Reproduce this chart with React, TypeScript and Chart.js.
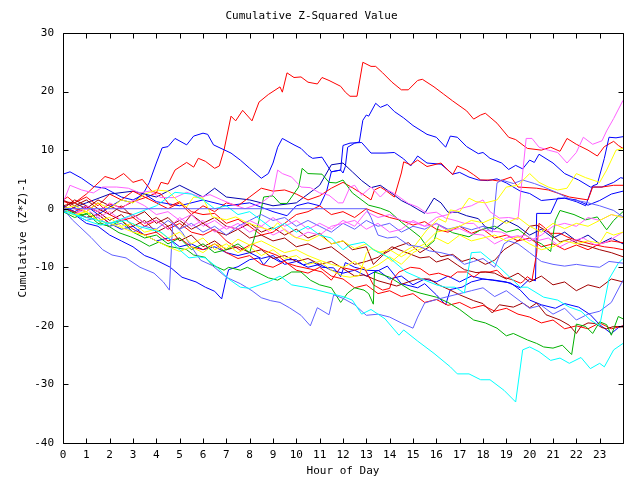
import React, { useEffect, useRef } from "react";
import { Chart, registerables } from "chart.js";

Chart.register(...registerables);

// ---- axis / tick data ----
const X_TICKS = [0, 1, 2, 3, 4, 5, 6, 7, 8, 9, 10, 11, 12, 13, 14, 15, 16, 17, 18, 19, 20, 21, 22, 23, 24];
const Y_TICKS = [-40, -30, -20, -10, 0, 10, 20, 30];
const TITLE = "Cumulative Z-Squared Value";
const X_TITLE = "Hour of Day";
const Y_TITLE = "Cumulative (Z*Z)-1";

// ---- series: [hour, cumulative value] ----
const redTop = [[0,0],[0.5,-0.8],[1,0.3],[1.5,-0.5],[2,0.8],[2.5,0.2],[3,1.2],[3.6,2],[4,2.7],[4.2,4.5],[4.5,4.2],[4.8,6.6],[5.3,7.9],[5.6,7.1],[5.8,8.6],[6.1,8.1],[6.5,6.9],[6.7,7.3],[6.9,10],[7.2,15.8],[7.4,15],[7.7,16.8],[8.1,15],[8.4,18.2],[8.8,19.5],[9.3,20.8],[9.4,19.9],[9.6,23.2],[9.9,22.4],[10.2,22.5],[10.5,21.6],[10.9,21.3],[11.1,22.4],[11.4,21.9],[11.9,20.9],[12.1,19.9],[12.3,19.2],[12.6,19.2],[12.85,25],[13.2,24.3],[13.4,24.3],[13.7,23.2],[14.1,21.6],[14.5,20.3],[14.8,20.3],[15.2,21.9],[15.4,22.1],[15.9,20.8],[16.3,19.6],[16.7,18.4],[17.3,16.7],[17.6,15.3],[17.9,16],[18.1,16.3],[18.6,14.6],[19.1,12.2],[19.4,11.8],[19.9,10.3],[20.5,10],[20.9,10.5],[21.3,9.8],[21.6,12],[22,11],[22.5,10],[22.9,9],[23.2,10.6],[23.6,11.5],[23.8,10.8],[24,10.3]];
const red2 = [[0,1.2],[0.5,1],[1,2],[1.5,0.5],[2,2.5],[2.5,1.5],[3,3],[3.5,2],[4,1],[4.5,0],[5,1],[5.5,-1],[6,0.5],[6.5,-0.5],[7,1],[7.5,0.5],[8,2],[8.5,3.5],[9,3],[9.5,3.2],[10,2.5],[10.5,1.5],[11,2.2],[11.5,3.5],[12,4.5],[12.4,3.6],[12.8,2.6],[13.2,1.5],[13.35,3.2],[13.6,3.7],[13.8,3.2],[14.2,2],[14.5,6.1],[14.6,8],[14.9,7.5],[15.2,8.3],[15.6,7.2],[15.9,7.5],[16.2,7.8],[16.5,6.6],[16.7,5.8],[16.9,7.3],[17.3,6.6],[17.6,5.8],[17.9,4.9],[18.4,4.9],[18.7,4.7],[19.2,5.4],[19.5,3.7],[20.3,3.5],[20.8,3.2],[21.7,2],[22.5,1.5],[22.7,3.7],[23.1,3.7],[23.6,4],[24,4]];
const red3 = [[0,1.5],[0.5,0],[1,-0.5],[1.5,1],[2,-1],[2.5,-2],[3,-1.5],[3.5,-3],[4,-2],[4.5,-3.5],[5,-2.5],[5.5,-4],[6,-4.5],[6.5,-3.5],[7,-5.5],[7.6,-7.1],[8.1,-6],[8.6,-7.1],[9.2,-8],[9.6,-9.3],[10,-9.8],[10.6,-10.3],[11.1,-10.8],[11.5,-12.2],[11.9,-10],[12.5,-10.5],[12.9,-10],[13.3,-13],[13.7,-13.9],[14,-13.6],[14.1,-12.2],[14.4,-10.8],[14.9,-10],[15.3,-10.2],[15.7,-11.3],[16.1,-11],[16.6,-11.7],[16.9,-10.8],[17.3,-10.8],[17.6,-11.7],[17.9,-10.8],[18.3,-10.8],[18.6,-10.5],[18.9,-11.7],[19.3,-12.2],[19.6,-12.7],[19.7,-12.5],[19.9,-11.6],[20.1,-12.2],[20.3,-7.6],[20.4,-2.5],[20.6,-3.1],[20.9,-4.2],[21.3,-4.2],[21.6,-4.8],[22,-5.4],[22.6,-6],[23.2,-6.5],[23.6,-6.7],[24,-7]];
const red4 = [[0,0],[0.5,-0.5],[1,-1.5],[1.5,-1],[2,-2.5],[2.5,-2],[3,-3.5],[3.5,-4.5],[4,-4],[4.5,-5.5],[5,-5],[5.5,-6.5],[6,-7],[6.5,-6],[7,-7.5],[7.5,-8.5],[8,-8],[8.5,-9.5],[9,-10],[9.5,-9],[10,-10.5],[10.5,-11],[11,-10],[11.5,-11.5],[12,-12],[12.5,-13.5],[13,-13],[13.5,-14.5],[14,-14],[14.5,-15],[15,-14.5],[15.5,-16],[16,-15.5],[16.5,-16.5],[17,-16],[17.5,-17],[18,-16.5],[18.5,-17.5],[19,-17],[19.5,-18],[20,-18.5],[20.5,-19.5],[21,-19],[21.5,-20.5],[22,-20],[22.5,-20.5],[23,-19.5],[23.5,-20.5],[24,-20]];
const red5 = [[0,1.5],[0.2,2],[0.5,1],[1,2.5],[1.4,4],[1.8,5.5],[2.2,5],[2.6,6],[3,4.5],[3.4,5],[3.8,3],[4.2,2.5],[4.6,0.5],[5,1.2],[5.5,-0.5],[6,-1],[6.5,-0.8],[7,-2.5],[7.5,-1.8],[8,-3],[8.5,-4.5],[9,-4],[9.5,-2.5],[10,-1],[10.5,-0.5],[11,0.5],[11.5,-1],[12,-0.5],[12.5,-1.5],[13,0],[13.5,-0.8],[14,-1.5],[14.5,-2],[15,-2.8],[15.5,-2.2],[16,-3.5],[16.5,-4],[17,-3],[17.5,-4.2],[18,-3.5],[18.5,-5],[19,-4.5],[19.5,-5.5],[20,-5],[20.5,-6.5],[21,-6],[21.5,-7],[22,-6.2],[22.5,-7],[23,-6],[23.5,-5.5],[24,-5.8]];
const blue1 = [[0,0],[0.5,-0.5],[1,0.5],[1.5,-1],[2,0.3],[2.5,1.5],[3,1],[3.5,3],[3.7,4.5],[4,7.8],[4.25,10.4],[4.5,10.6],[4.8,12],[5.3,10.9],[5.6,12.4],[6,12.9],[6.2,12.7],[6.45,10.9],[7.2,9.5],[7.6,8.3],[8,6.9],[8.5,5.2],[8.8,6],[9,7.8],[9.2,10.5],[9.4,12],[9.9,10.9],[10.2,10.3],[10.5,9.1],[10.7,8.6],[11.1,8.8],[11.5,6.3],[11.9,6.6],[12,10.8],[12.3,11.2],[12.8,11.3],[13.2,9.5],[13.8,9.5],[14.2,9.6],[14.6,8.5],[14.9,7.3],[15.2,9],[15.6,7.8],[16.2,7.6],[16.7,5.9],[17,6.2],[17.4,5.4],[17.8,4.9],[18.2,4.8],[18.6,5.1],[19,4.4],[19.6,3],[20,2.6],[20.5,1.4],[21,1.6],[21.5,1.8],[22,1.5],[22.5,0.6],[23,1.4],[23.5,2.5],[24,3]];
const blue2 = [[0,5.9],[0.3,6.3],[0.8,5.2],[1.3,3.8],[1.8,3.5],[2.5,2],[3,1.5],[3.5,2.5],[4,1.2],[5,0.5],[6,1.5],[7,0.5],[8,1],[9,-0.5],[9.6,-1.2],[10,0.5],[10.5,1],[11,0.5],[11.3,3],[11.5,6.3],[11.9,6.6],[12,6.1],[12.1,7.2],[12.2,10.5],[12.5,11.2],[12.7,11.4],[12.85,15.1],[13,16],[13.1,15.8],[13.4,18],[13.6,17.3],[13.9,17.8],[14.2,16.6],[14.6,15.5],[15,14.2],[15.6,12.7],[16,12.2],[16.4,10.5],[16.6,12.4],[16.9,12.2],[17.3,10.6],[17.8,9.4],[18,9.6],[18.3,8.6],[18.8,7.8],[19.1,6.7],[19.4,7.4],[19.7,6.8],[20,8.3],[20.2,7.9],[20.4,9.3],[21,7.8],[21.5,6],[22.1,4.9],[22.6,3.7],[23.1,3.7],[23.6,4.5],[23.9,5.3],[24,5.2]];
const blue3 = [[0,0],[0.5,-1],[1,-2.5],[1.5,-3],[2,-4.5],[2.5,-5.5],[3,-6.5],[3.5,-8],[3.9,-8.6],[4.6,-10],[5.1,-11.7],[5.7,-12.5],[6.1,-13.4],[6.5,-14.1],[6.8,-15.4],[7,-11.8],[7.1,-10.4],[7.5,-9.9],[8,-8.7],[8.4,-8.4],[8.6,-9.6],[8.9,-8.2],[9.3,-9.1],[9.6,-8.7],[10,-8.7],[10.3,-9.6],[10.7,-9.1],[11.1,-10],[11.6,-10.1],[11.9,-11.6],[12.1,-9.2],[12.5,-10],[13,-10.5],[13.5,-10.6],[13.9,-9.8],[14.5,-12.8],[15.2,-13.5],[15.5,-12.8],[16,-14.7],[16.4,-16.4],[16.6,-13.8],[17.1,-13.4],[17.5,-12.5],[18,-12],[18.5,-12.2],[19,-12.5],[19.6,-13.5],[20,-12],[20.25,-12.3],[20.3,-0.8],[20.9,-0.8],[21.2,1.8],[21.5,1.8],[22,1.2],[22.4,0.5],[22.7,3.9],[22.9,4.2],[23.2,8.6],[23.4,12.2],[23.7,12.1],[24,12.3]];
const blue4 = [[0,0.5],[0.5,-0.5],[1,-1.5],[1.5,-1],[2,-2.5],[2.5,-3.5],[3,-3],[3.5,-4.5],[4,-5.5],[4.5,-5],[5,-6.5],[5.5,-6],[6,-7],[6.5,-6.5],[7,-7.5],[7.5,-8],[8,-7.5],[8.5,-8.5],[9,-8],[9.5,-9.5],[10,-9],[10.5,-10],[11,-9.5],[11.5,-10.5],[12,-11],[12.5,-10.5],[13,-11.5],[13.5,-10.5],[14,-12],[14.5,-11.5],[15,-13],[15.5,-12],[16,-12.5],[16.5,-11.5],[17,-12.5],[17.5,-11.5],[18,-12],[18.4,-12.2],[19.2,-12.7],[19.6,-13.9],[20,-15.6],[20.5,-16.4],[21.1,-17],[21.5,-16.2],[22.1,-16.8],[22.6,-18.1],[23,-19.8],[23.5,-21.3],[23.8,-20.3],[24,-20]];
const navy1 = [[0,-0.5],[1,1],[2,2.5],[3,3],[4,2],[5,4],[6,2],[6.5,3.5],[7,2],[8,1.5],[9,0.5],[10,1],[10.5,2.5],[11,4],[11.5,7.5],[12,7.8],[12.4,6.3],[12.8,4.8],[13.2,3.6],[13.6,4],[14.1,2.6],[14.5,1.4],[14.9,0.6],[15.5,-0.8],[15.9,1.8],[16.2,1],[16.5,-0.6],[16.9,-0.6],[17.3,-1.2],[17.8,-1.7],[18.1,-3.1],[18.5,-3.5],[19,-2],[19.5,-3],[20,-4.5],[20.5,-3.5],[21,-5],[21.5,-4],[22,-5.5],[22.5,-4.5],[23,-6],[23.5,-5],[24,-6]];
const pink1 = [[0,0],[0.5,-1],[1,0.5],[1.5,-0.5],[2,1],[2.5,0],[3,1.5],[3.5,0.5],[4,-1],[4.5,-0.5],[5,-2],[5.5,-1],[6,-3],[6.5,-2],[7,-3.5],[7.5,-2.5],[8,-4],[8.5,-3],[9,-4.5],[9.5,-3.5],[10,-5],[10.5,-4],[11,-4.5],[11.5,-3],[12,-2.5],[12.5,-2],[13,-3.5],[13.5,-2.5],[14,-4],[14.5,-3.5],[15,-2],[15.5,-3],[16,-1.5],[16.5,-1],[17,0],[17.5,0.5],[18,1.5],[18.3,-0.5],[18.7,-1.6],[19.1,-1.5],[19.5,-1.8],[19.85,12],[20.1,12],[20.4,10.5],[20.8,10],[21.2,9.6],[21.6,7.8],[22,9.6],[22.3,12.2],[22.7,11],[23.1,11.6],[23.3,13.3],[23.6,15.4],[24,18.5]];
const pink2 = [[0,1],[0.3,4],[0.8,3.2],[1.3,2.7],[1.7,3.7],[2.3,3.7],[2.8,3.5],[3.3,2.7],[3.7,3],[4.2,1.9],[4.8,1.9],[5.3,2.8],[5.9,2],[6.3,2.4],[6.8,1.5],[7.3,0.7],[7.8,0],[8.5,1],[9,2.5],[9.2,6.6],[9.4,6],[9.8,5.4],[10.2,3.7],[10.6,3.6],[11,2.7],[11.4,2.3],[11.8,1],[12,1],[12.3,3.7],[12.5,4],[12.8,2.3],[13.2,3.7],[13.6,2],[13.9,3.2],[14.2,2.6],[14.8,0.9],[15.2,0.3],[15.6,-0.8],[16,-0.6],[16.4,-1.6],[16.8,-2],[17.2,-2.5],[17.6,-2.5],[17.9,-3.6],[18.3,-3.8],[18.8,-4],[19.3,-5],[19.8,-4.5],[20.3,-5.5],[20.8,-5],[21.3,-6.5],[21.8,-5.5],[22.3,-5],[22.8,-6.2],[23.3,-5.7],[24,-4]];
const pink3 = [[0,0],[0.5,-1],[1,0],[1.5,-1.5],[2,-0.5],[2.5,-2],[3,-1],[3.5,-2.5],[4,-2],[4.5,-3.5],[5,-1.5],[5.5,-3],[6,-2],[6.5,-4],[7,-3],[7.5,-3.5],[8,-2],[8.5,-3],[9,-1.5],[9.5,-3],[10,-2],[10.5,-3.5],[11,-2.5],[11.5,-3.5],[12,-2],[12.5,-3],[13,-0.5],[13.5,-1.5],[14,-1],[14.5,-2],[15,-2.3],[15.5,-3],[16,-2.6],[16.5,-3.7],[17,-3.4],[17.5,-4.3],[18,-4.5],[18.5,-6],[19,-5],[19.5,-4.6],[20,-5.5],[20.5,-4.5],[21,-3],[21.5,-2.5],[22,-3],[22.5,-1.5],[23,-2],[23.5,-1],[24,-1.5]];
const cyan1 = [[0,0],[0.4,-0.8],[1,-2],[1.6,-2.8],[2.7,-2],[3.1,-2.8],[3.5,-3.3],[4.2,-4],[4.6,-5.3],[4.9,-6.7],[5.4,-8.4],[5.8,-8.2],[6.1,-8.4],[6.6,-10],[7.1,-12],[7.6,-13.4],[8,-13.6],[8.8,-12.5],[9.3,-11.5],[9.8,-13],[10.5,-13.5],[12,-15],[12.4,-15.6],[12.8,-18],[13.2,-17.2],[13.8,-18.8],[14.4,-21.6],[14.6,-20.7],[15.2,-22.6],[15.9,-24.7],[16.6,-27],[16.9,-28.2],[17.4,-28.2],[17.9,-29.2],[18.3,-29.2],[18.9,-31],[19.4,-33],[19.7,-24.1],[20,-23.6],[20.4,-24.4],[20.9,-25.9],[21.3,-25.5],[21.7,-26.4],[22.2,-25.4],[22.6,-27.3],[23,-26.4],[23.2,-27],[23.6,-24.1],[24,-23]];
const cyan2 = [[0,-0.5],[1,-1.5],[2,-2.5],[3,-1],[4,0.5],[4.8,2.8],[5.5,2.5],[6,1.5],[6.5,0],[7,0.5],[7.5,-1],[8,-0.5],[8.5,-2],[9,-3.5],[9.5,-2.5],[10,-4],[10.5,-3],[11,-4.5],[11.5,-5],[12,-7],[12.3,-6.2],[12.9,-5.7],[13.3,-7],[14,-8.4],[14.7,-10.8],[15.5,-12.2],[16,-13],[16.4,-13.4],[16.8,-13.4],[17.2,-14.4],[17.5,-7.5],[17.9,-7.4],[18.7,-10],[19.6,-13.4],[19.9,-13.4],[20.6,-15.1],[21.2,-15.6],[21.7,-16.8],[22.2,-17.5],[22.6,-19],[23,-20],[23.4,-12],[23.8,-9.3],[24,-8.5]];
const green1 = [[0,-0.5],[0.5,-1.5],[1,-0.8],[1.5,-2.5],[2,-3],[2.5,-2],[3,-4],[3.5,-5],[4,-4.5],[4.5,-6],[5,-5],[5.5,-7],[6,-6],[6.5,-7.5],[7,-7],[7.5,-6],[8,-7.5],[8.2,-5],[8.4,-2],[8.6,2],[9,2.2],[9.3,0.9],[9.6,0.9],[10.1,3.7],[10.25,6.9],[10.5,6],[11.1,5.9],[11.4,4.5],[11.7,4.4],[12,4.9],[12.4,2.7],[13.1,0.6],[13.6,0.1],[14,-0.5],[14.5,-2.3],[15.3,-4.8],[15.6,-6.5],[15.9,-5.5],[16.1,-2.8],[16.7,-4.1],[17.4,-4.8],[17.9,-3.6],[18.5,-3],[19,-4],[19.5,-3.5],[20,-5],[20.5,-6],[20.9,-7.3],[21.1,-2],[21.3,-0.3],[21.9,-1],[22.4,-1.9],[22.9,-1.4],[23.3,-3.6],[23.6,-2],[24,-0.5]];
const green2 = [[0,-0.3],[0.4,-0.6],[0.85,-1.1],[1.2,-0.7],[1.6,-2.4],[2,-3.1],[2.4,-4.1],[2.9,-4.8],[3.3,-5.5],[3.7,-6.4],[4.1,-5.7],[4.5,-6.4],[5.3,-7],[5.6,-7.9],[6.1,-8.3],[6.4,-9.6],[6.9,-10.5],[7.1,-10],[7.6,-10.5],[7.9,-10],[8.4,-11],[8.8,-11.8],[9.2,-12.2],[9.8,-10.8],[10.2,-10.8],[10.6,-12.2],[11,-13],[11.5,-13.5],[11.9,-16],[12.2,-14.4],[12.5,-13.5],[12.9,-13.9],[13.1,-14.5],[13.3,-16.3],[13.35,-10.8],[14,-11.7],[14.9,-13.9],[15.3,-14.4],[16,-15.1],[16.5,-16],[17,-17.2],[17.6,-19],[18.1,-19.5],[18.6,-20.4],[19,-21.7],[19.3,-21.3],[19.9,-22.4],[20.3,-23],[20.6,-23.6],[21,-23.8],[21.4,-23.3],[21.8,-24.9],[22,-19.7],[22.4,-20.1],[22.7,-21.3],[23,-19.3],[23.3,-19.8],[23.5,-21.6],[23.8,-18.4],[24,-18.8]];
const yellow1 = [[0,0],[0.5,-1],[1,-0.5],[1.5,-2],[2,-1.5],[2.5,-3],[3,-2.5],[3.5,-4],[4,-3.5],[4.5,-5],[5,-4],[5.5,-6],[6,-5],[6.5,-7],[7,-6],[7.5,-7.5],[8,-6.5],[8.5,-8],[9,-7],[9.5,-8.5],[10,-8],[10.5,-9.5],[11,-9],[11.5,-10.5],[12,-11.5],[12.3,-11.7],[12.7,-11.4],[13,-7.6],[13.2,-6.8],[13.7,-7.6],[14.1,-9],[14.5,-7.6],[15.1,-6.2],[15.6,-3.6],[16.1,-1.7],[16.4,-2.3],[16.6,-0.2],[17,-0.5],[17.4,1.8],[17.7,1.2],[18.1,1],[18.6,1.5],[19,3.7],[19.5,4],[20,6],[20.4,4.5],[20.8,3.7],[21.2,3.2],[21.6,3.5],[22,6],[22.4,5.3],[23,4.5],[23.3,6.6],[23.7,10],[24,10.3]];
const yellow2 = [[0,0],[0.5,-1.2],[1,-0.5],[1.5,-2],[2,-2.5],[2.5,-3.2],[3,-4],[3.5,-4.5],[4,-5.5],[4.5,-6.5],[5,-7.3],[5.5,-6.5],[6,-7.5],[6.5,-6],[7,-6.8],[7.5,-5.2],[8,-6.2],[8.5,-5.5],[9,-6.5],[9.5,-7.5],[10,-7],[10.5,-8],[11,-8.8],[11.5,-9.5],[12,-10],[12.5,-9],[13,-10.5],[13.5,-9.6],[14,-8.2],[14.5,-9.5],[15,-7.5],[15.5,-6.5],[16,-5],[16.5,-6],[17,-4.5],[17.5,-5.5],[18,-5],[18.5,-4.5],[19,-5.5],[19.5,-4.8],[20,-6],[20.5,-7],[21,-6.5],[21.5,-5.5],[22,-6],[22.5,-5.5],[23,-5.9],[23.3,-4],[23.6,-4.5],[24,-4]];
const yellow3 = [[0,0],[0.5,0.5],[1,-0.5],[1.5,1],[2,0],[2.5,1.5],[3,1],[3.5,2.5],[4,3.2],[4.5,3],[5,1],[5.3,0.3],[5.6,2],[6,1.8],[6.4,-1.4],[7,-1.9],[7.4,-1.4],[7.9,-2.4],[8.4,-3.1],[8.9,-3.7],[9.2,-2.4],[9.5,-3.7],[9.9,-4.8],[10.5,-5.5],[11,-4.5],[11.5,-6],[12,-5.5],[12.5,-6.8],[13,-6],[13.5,-7.5],[14,-7],[14.5,-8.2],[15,-7],[15.5,-6],[16,-4],[16.5,-3.6],[17,-3],[17.5,-2],[18,-2.4],[18.5,-1.5],[19,-2.5],[19.5,-1.5],[20,-3],[20.5,-4],[21,-2.5],[21.5,-3.4],[22,-2.5],[22.5,-3],[23,-2],[23.5,-1],[24,-1.5]];
const darkred1 = [[0,0],[0.5,1.5],[1,0.5],[1.5,-0.5],[2,-2],[2.5,-1],[3,-3],[3.5,-2],[4,-4],[4.5,-3],[5,-5.5],[5.5,-4.5],[6,-6.5],[6.5,-5.5],[7,-7],[7.5,-6.5],[8,-7.5],[8.5,-7],[9,-8.5],[9.5,-8],[10,-9],[10.5,-8.5],[11,-9.5],[11.5,-9],[12,-10.2],[12.5,-11.5],[12.9,-11.3],[13.5,-12.3],[14.3,-13.2],[14.8,-12.5],[15.2,-12],[15.7,-12],[16.1,-13],[16.6,-13.9],[17,-14.7],[17.6,-15.7],[18,-16.2],[18.4,-17.8],[18.7,-16.4],[19.3,-16.8],[19.7,-16.1],[20,-16.9],[20.3,-16.1],[20.7,-18.1],[21.3,-19],[21.7,-19.9],[22,-21.3],[22.2,-20.1],[22.5,-19.5],[22.8,-19.6],[23.1,-20.3],[23.3,-20.5],[23.6,-20.1],[24,-20.2]];
const darkred2 = [[0,1.5],[0.5,0.5],[1,1.5],[1.5,0],[2,-1],[2.5,0.5],[3,-1.5],[3.5,-0.5],[4,-2.5],[4.5,-1.5],[5,-3.5],[5.5,-1],[6,-2.5],[6.5,-1.5],[7,-3],[7.5,-3.5],[8,-2.5],[8.5,-4],[9,-3.2],[9.5,-4.5],[10,-3.5],[10.5,-5],[11,-4.2],[11.5,-6],[12,-5.5],[12.4,-7],[13,-6.5],[13.3,-9.5],[13.8,-7.6],[14.3,-6.5],[14.8,-5.8],[15.3,-7.5],[15.7,-6.5],[16.2,-8.2],[16.7,-7.8],[17.1,-9],[17.6,-8.4],[18.1,-9.5],[18.5,-8.8],[18.9,-7],[19.3,-6],[19.6,-5.2],[20,-3],[20.3,-2.8],[20.8,-4],[21.3,-5.7],[21.7,-5.2],[22.1,-6],[22.6,-6.5],[23,-7],[23.5,-7.5],[24,-8.2]];
const darkred3 = [[0,0.5],[0.5,1],[1,0],[1.5,1.5],[2,0.5],[2.5,-0.5],[3,-1],[3.5,-2.5],[4,-1.5],[4.5,-3],[5,-2],[5.5,-3.5],[6,-2.5],[6.5,-3.8],[7,-4.5],[7.5,-3.5],[8,-5],[8.5,-4.5],[9,-5.5],[9.5,-5],[10,-6.5],[10.5,-6],[11,-7],[11.5,-6.5],[12,-8],[12.5,-9.5],[13,-9],[13.5,-8.3],[14.1,-6.5],[14.6,-7.3],[15.3,-8.4],[15.7,-8.2],[16,-9.1],[16.5,-8.5],[16.9,-9.6],[17.2,-10.4],[17.7,-10.9],[18.1,-10.8],[18.5,-11],[19,-12],[19.5,-11],[20,-12.5],[20.5,-11.5],[21,-13],[21.5,-12.5],[22,-14],[22.5,-13],[23,-13.5],[23.5,-12],[24,-12.5]];
const lightblue1 = [[0,0],[0.4,-1.9],[1.2,-4.9],[1.7,-7],[2.1,-7.9],[2.7,-8.4],[3.3,-10],[3.9,-11],[4.3,-12.5],[4.56,-13.9],[4.7,-2.5],[5.1,-4],[5.5,-6.5],[5.9,-8.8],[6.4,-9.7],[7,-11.7],[7.6,-12.8],[8.1,-14],[8.5,-15.2],[8.9,-15.7],[9.3,-16],[9.7,-16.9],[10.2,-18.2],[10.6,-20],[10.9,-16.9],[11.4,-18.1],[11.6,-14.7],[12,-15.3],[12.5,-16.4],[13,-18.2],[13.5,-18],[14,-18.5],[14.5,-19.5],[15,-20.4],[15.2,-18.5],[15.5,-16.1],[16,-15.5],[16.5,-15],[17,-14.5],[17.5,-14],[18,-13.5],[18.5,-15],[19,-14],[19.5,-15.5],[20,-17],[20.5,-16.5],[21,-18],[21.5,-17],[22,-19],[22.5,-18],[23,-17.5],[23.5,-16],[24,-12.2]];
const lightblue2 = [[0,0],[13,0],[13.2,-1.5],[13.5,-4.5],[13.9,-5],[14.3,-4.8],[14.8,-6.2],[15.3,-6.5],[15.7,-7.2],[16.2,-7.5],[16.7,-8],[17.2,-9.5],[17.6,-9],[18,-8.5],[18.5,-10],[18.9,-6],[19.1,-5.5],[19.5,-6],[20,-7.5],[20.5,-9],[21,-9.5],[21.5,-9.8],[22,-9.5],[22.5,-9.8],[23,-10],[23.4,-9],[24,-9.3]];
const lightblue3 = [[0,0],[0.5,-1],[1,-2],[1.5,-1.5],[2,-3],[2.5,-2.5],[3,-4],[3.5,-3],[4,-3.5],[4.5,-2],[5,-3.5],[5.5,-2.5],[6,-4],[6.5,-3],[7,-4.5],[7.5,-3],[8,-2],[8.5,-1],[9,-2],[9.5,-1.5],[10,-3],[10.5,-2],[11,-3],[11.5,-4],[12,-2.5],[12.5,-3.5],[13,-2],[13.5,-3],[14,-2.5],[14.5,-4],[15,-3],[15.5,-3.5],[16,-2.5],[16.5,-3.5],[17,-3],[17.5,-3.6],[18,-3],[18.4,-4],[18.6,4.4],[18.8,4.9],[19.3,4.3],[19.7,4.9],[20.2,4.3],[20.6,3.7],[21.2,2.7],[21.8,1.5],[22.3,1.2],[23,0.5],[23.6,-0.3],[24,-1.4]];

const SERIES = [
  { data: lightblue2, color: "#6060ff" },
  { data: cyan1, color: "#00ffff" },
  { data: cyan2, color: "#00ffff" },
  { data: yellow1, color: "#ffff00" },
  { data: yellow2, color: "#ffff00" },
  { data: yellow3, color: "#ffff00" },
  { data: pink3, color: "#ff60ff" },
  { data: pink2, color: "#ff60ff" },
  { data: pink1, color: "#ff60ff" },
  { data: lightblue1, color: "#6060ff" },
  { data: lightblue3, color: "#6060ff" },
  { data: green1, color: "#00b000" },
  { data: green2, color: "#00b000" },
  { data: darkred1, color: "#a00000" },
  { data: darkred2, color: "#a00000" },
  { data: darkred3, color: "#a00000" },
  { data: red5, color: "#ff0000" },
  { data: red4, color: "#ff0000" },
  { data: red3, color: "#ff0000" },
  { data: red2, color: "#ff0000" },
  { data: navy1, color: "#0000b0" },
  { data: blue4, color: "#0000ff" },
  { data: blue3, color: "#0000ff" },
  { data: blue1, color: "#0000ff" },
  { data: blue2, color: "#0000ff" },
  { data: redTop, color: "#ff0000" },
];

const FONT = '"DejaVu Sans Mono", "Liberation Mono", monospace';
const FONT_SIZE = 11;

const framePlugin = {
  id: "frame",
  afterDatasetsDraw(chart: any) {
    const { ctx, chartArea, scales } = chart;
    const l = Math.round(chartArea.left) + 0.5;
    const r = Math.round(chartArea.right) + 0.5;
    const t = Math.round(chartArea.top) + 0.5;
    const b = Math.round(chartArea.bottom) + 0.5;
    ctx.save();
    ctx.strokeStyle = "#000";
    ctx.lineWidth = 1;
    ctx.beginPath();
    ctx.rect(l, t, r - l, b - t);
    const len = 5;
    for (const v of X_TICKS) {
      const px = Math.round(scales.x.getPixelForValue(v)) + 0.5;
      ctx.moveTo(px, b);
      ctx.lineTo(px, b - len);
      ctx.moveTo(px, t);
      ctx.lineTo(px, t + len);
    }
    for (const v of Y_TICKS) {
      const py = Math.round(scales.y.getPixelForValue(v)) + 0.5;
      ctx.moveTo(l, py);
      ctx.lineTo(l + len, py);
      ctx.moveTo(r, py);
      ctx.lineTo(r - len, py);
    }
    ctx.stroke();
    ctx.restore();
  },
};

export default function App() {
  const ref = useRef<HTMLCanvasElement>(null);
  useEffect(() => {
    if (!ref.current) return;
    const chart = new Chart(ref.current, {
      type: "line",
      data: {
        datasets: SERIES.map((s, i) => ({
          label: "s" + i,
          data: s.data.map(([x, y]) => ({ x, y })),
          borderColor: s.color,
          backgroundColor: s.color,
          borderWidth: 1,
          pointRadius: 0,
          tension: 0,
          fill: false,
        })),
      },
      options: {
        responsive: false,
        animation: false,
        devicePixelRatio: 1,
        layout: { padding: { left: 0, right: 17, top: 0, bottom: 0 } },
        plugins: {
          legend: { display: false },
          tooltip: { enabled: false },
          title: {
            display: true,
            text: TITLE,
            color: "#000",
            font: { family: FONT, size: FONT_SIZE, weight: "normal", lineHeight: 1.2 },
            padding: { top: 10, bottom: 33 - 10 - FONT_SIZE * 1.2 },
          },
        },
        scales: {
          x: {
            type: "linear",
            min: 0,
            max: 24,
            grid: { display: false, drawTicks: false, tickLength: 0 },
            border: { display: false },
            afterFit: (s: any) => { s.height = 37; },
            afterBuildTicks: (s: any) => { s.ticks = X_TICKS.map((v) => ({ value: v })); },
            ticks: {
              color: "#000",
              font: { family: FONT, size: FONT_SIZE },
              padding: 6,
              maxRotation: 0,
              autoSkip: false,
              callback: (v: any) => (v === 24 ? "" : String(v)),
            },
            title: {
              display: true,
              text: X_TITLE,
              color: "#000",
              font: { family: FONT, size: FONT_SIZE, lineHeight: 1.2 },
              padding: { top: 0, bottom: 2.5 },
            },
          },
          y: {
            min: -40,
            max: 30,
            grid: { display: false, drawTicks: false, tickLength: 0 },
            border: { display: false },
            afterFit: (s: any) => { s.width = 63; },
            afterBuildTicks: (s: any) => { s.ticks = Y_TICKS.map((v) => ({ value: v })); },
            ticks: {
              color: "#000",
              font: { family: FONT, size: FONT_SIZE },
              padding: 9,
              autoSkip: false,
            },
            title: {
              display: true,
              text: Y_TITLE,
              color: "#000",
              font: { family: FONT, size: FONT_SIZE, lineHeight: 1.2 },
              padding: { top: 16.5, bottom: 0 },
            },
          },
        },
      },
      plugins: [framePlugin],
    });
    return () => chart.destroy();
  }, []);
  return (
    <div style={{ position: "fixed", left: 0, top: 0, width: 640, height: 480, background: "#fff" }}>
      <canvas ref={ref} width={640} height={480} style={{ display: "block" }} />
    </div>
  );
}
